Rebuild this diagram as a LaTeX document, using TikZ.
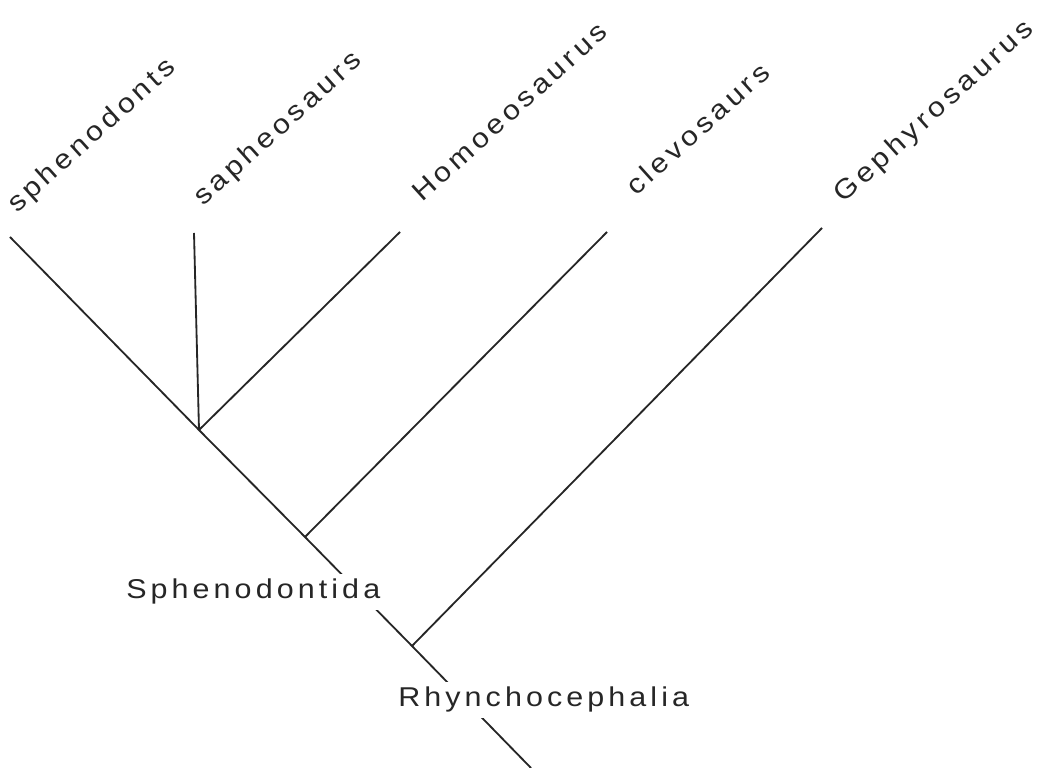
\documentclass[tikz,border=0pt]{standalone}
\usepackage{fontspec}
\newfontfamily\cladefont{Liberation Sans}[LetterSpace=15,FakeStretch=1.12]
\newcommand{\cladesize}{\fontsize{19.35}{22}\selectfont}

\begin{document}
\begin{tikzpicture}[
    tax/.style={anchor=base west, rotate=42, inner sep=0pt, font=\cladefont\cladesize, text=black!85},
    grp/.style={anchor=base west, inner xsep=0pt, inner ysep=4pt, fill=white, font=\cladefont\cladesize, text=black!85},
    br/.style={line width=1.3pt, black!85}
]
\useasboundingbox (0,0) rectangle (25.975,19.2);

% tips, branch points and root
\coordinate (tS) at (0.25,13.275);
\coordinate (tSa) at (4.85,13.375);
\coordinate (tH) at (10.0,13.4);
\coordinate (tC) at (15.175,13.4);
\coordinate (tG) at (20.55,13.5);
\coordinate (J1) at (4.975,8.45);
\coordinate (J2) at (7.625,5.775);
\coordinate (J3) at (10.3,3.05);
\coordinate (root) at (13.275,0);

\draw[br] (tS) -- (J1) -- (J2) -- (J3) -- (root);
\draw[br] (tSa) -- (J1);
\draw[br] (tH) -- (J1);
\draw[br] (tC) -- (J2);
\draw[br] (tG) -- (J3);

\node[tax] (sph) at (0.42,13.85) {sphenodonts};
\node[tax] (sap) at (5.075,14.025) {sapheosaurs};
\node[tax] (hom) at (10.55,14.125) {Homoeosaurus};
\node[tax] (clv) at (15.9,14.275) {clevosaurs};
\node[tax] (geph) at (21.08,14.1) {Gephyrosaurus};

\node[grp] (Sphd) at (3.15,4.225) {Sphenodontida};
\node[grp] (Rhyn) at (9.95,1.525) {Rhynchocephalia};
\end{tikzpicture}
\end{document}
